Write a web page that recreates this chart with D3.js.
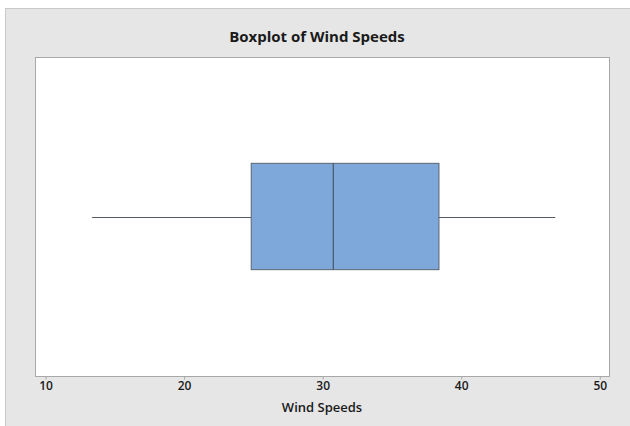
<!DOCTYPE html>
<html>
<head>
<meta charset="utf-8">
<script src="https://cdn.jsdelivr.net/npm/d3@7"></script>
<style>
  html, body { margin: 0; padding: 0; background: #ffffff; }
  svg { display: block; }
</style>
</head>
<body>
<svg id="chart" width="630" height="426"></svg>
<script>
// ---- data ----
const categories = ["Wind Speeds"];
const whiskerMin = [13.4];
const q1Values = [24.88];
const medianValues = [30.8];
const q3Values = [38.43];
const whiskerMax = [46.82];
const tickValues = [10, 20, 30, 40, 50];
const chartTitle = "Boxplot of Wind Speeds";
const xTitle = "Wind Speeds";

const svg = d3.select("#chart");
const W = 630, H = 426;
const plot = { left: 35, right: 609, top: 57, bottom: 376 };
const font = "'Open Sans', 'Noto Sans', sans-serif";

// outer gray frame
svg.append("rect").attr("x", 5.5).attr("y", 8.5).attr("width", W).attr("height", H)
  .attr("fill", "#e6e6e6").attr("stroke", "#c9c9c9").attr("stroke-width", 1);

// plot area
svg.append("rect")
  .attr("x", plot.left + 0.5).attr("y", plot.top + 0.5)
  .attr("width", plot.right - plot.left).attr("height", plot.bottom - plot.top)
  .attr("fill", "#ffffff").attr("stroke", "#a8a8a8").attr("stroke-width", 1);

const x = d3.scaleLinear().domain([10, 50]).range([45, 599.3]);
const y = d3.scaleBand().domain(categories).range([plot.top, plot.bottom])
  .paddingInner(0).paddingOuter(1);

// axis
const axis = d3.axisBottom(x).tickValues(tickValues).tickSize(3).tickPadding(2).tickFormat(d3.format("d"));
const gAxis = svg.append("g").attr("transform", `translate(0.5,${plot.bottom + 0.5})`).call(axis);
gAxis.select(".domain").remove();
gAxis.selectAll(".tick line").attr("stroke", "#a8a8a8");
gAxis.selectAll(".tick text")
  .attr("fill", "#1a1a1a").style("font-family", font).style("font-size", "12px").style("font-weight", "600");

// titles
svg.append("text").attr("x", 317).attr("y", 42).attr("text-anchor", "middle")
  .style("font-family", font).style("font-size", "15px").style("font-weight", "700")
  .attr("fill", "#1a1a1a").text(chartTitle);
svg.append("text").attr("x", 322).attr("y", 412).attr("text-anchor", "middle")
  .style("font-family", font).style("font-size", "13px").style("font-weight", "600")
  .attr("fill", "#1a1a1a").text(xTitle);

// boxplot
const g = svg.append("g");
categories.forEach((c, i) => {
  const yc = y(c) + y.bandwidth() / 2;
  const lineColor = "#555a60";
  g.append("line").attr("x1", x(whiskerMin[i])).attr("x2", x(q1Values[i]))
    .attr("y1", Math.round(yc) + 0.5).attr("y2", Math.round(yc) + 0.5)
    .attr("stroke", lineColor).attr("stroke-width", 1);
  g.append("line").attr("x1", x(q3Values[i])).attr("x2", x(whiskerMax[i]))
    .attr("y1", Math.round(yc) + 0.5).attr("y2", Math.round(yc) + 0.5)
    .attr("stroke", lineColor).attr("stroke-width", 1);
  g.append("rect")
    .attr("x", x(q1Values[i])).attr("y", y(c))
    .attr("width", x(q3Values[i]) - x(q1Values[i])).attr("height", y.bandwidth())
    .attr("fill", "#7ea8da").attr("stroke", "#5c6470").attr("stroke-width", 1);
  g.append("line").attr("x1", x(medianValues[i])).attr("x2", x(medianValues[i]))
    .attr("y1", y(c)).attr("y2", y(c) + y.bandwidth())
    .attr("stroke", "#3d4450").attr("stroke-width", 1);
});
</script>
</body>
</html>
